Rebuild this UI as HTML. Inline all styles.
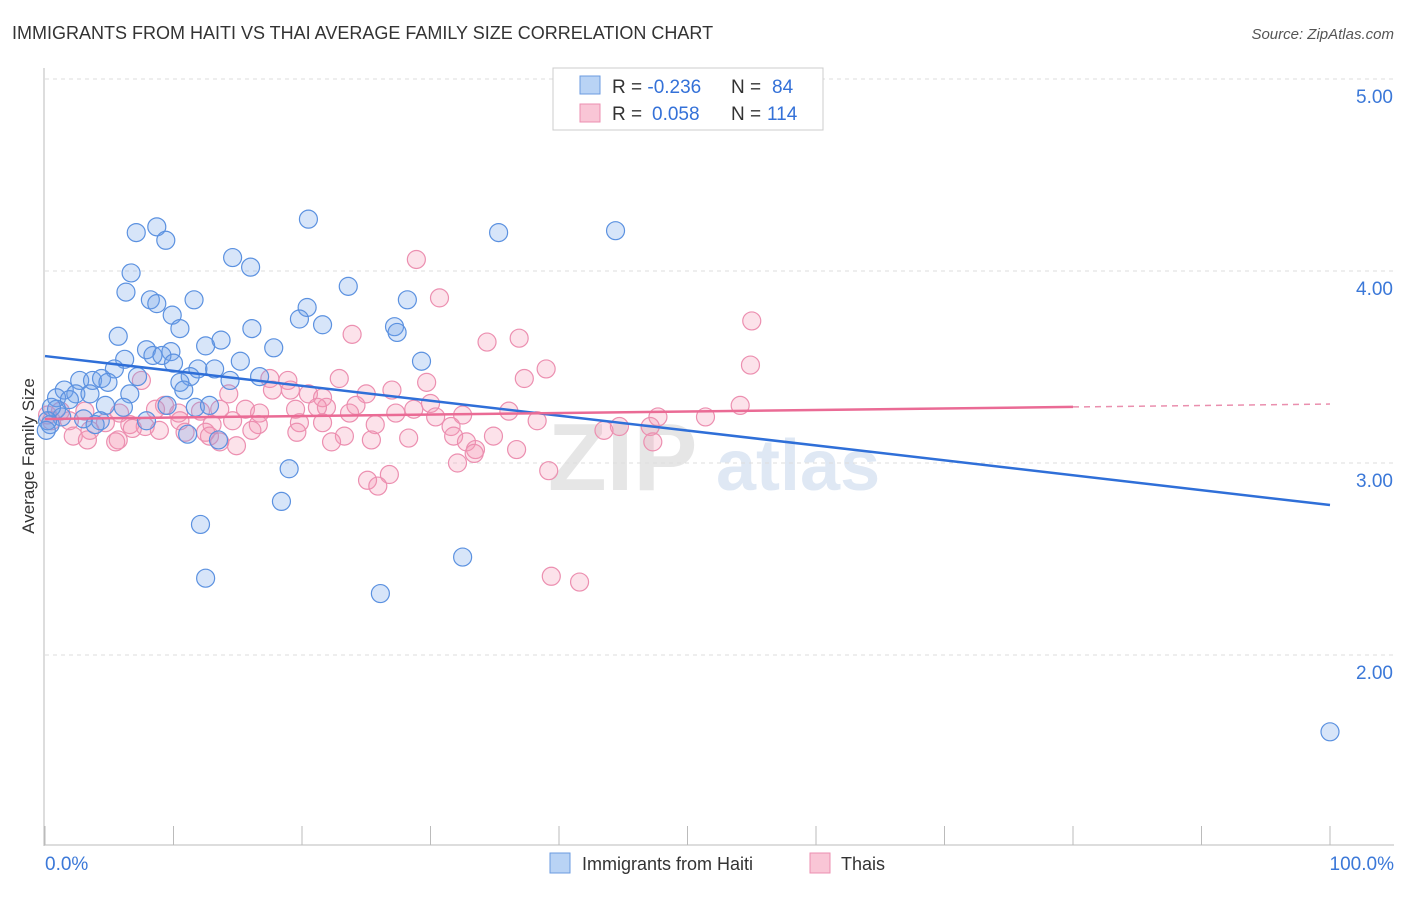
<!DOCTYPE html>
<html><head><meta charset="utf-8"><style>
body{margin:0;background:#fff;font-family:"Liberation Sans",sans-serif;}
</style></head><body>
<svg id="c" width="1406" height="892" xmlns="http://www.w3.org/2000/svg">
<text x="12" y="39" font-size="18" fill="#333">IMMIGRANTS FROM HAITI VS THAI AVERAGE FAMILY SIZE CORRELATION CHART</text>
<text x="1394" y="39" font-size="15" fill="#555" font-style="italic" text-anchor="end">Source: ZipAtlas.com</text>
<text x="548" y="490" font-size="96" fill="#e6e6e6" font-weight="bold">ZIP</text>
<text x="716" y="490" font-size="72" fill="#dfe8f4" font-weight="bold">atlas</text>
<text transform="translate(34,456) rotate(-90)" font-size="17" fill="#333" text-anchor="middle">Average Family Size</text>
<g id="grid"></g><g id="pts"></g><g id="lines"></g>
<g>
<rect x="553" y="68" width="270" height="62" fill="#fff" stroke="#ccc"/>
<rect x="580" y="76" width="20" height="18" fill="#b9d3f5" stroke="#6b9be0"/>
<rect x="580" y="104" width="20" height="18" fill="#f9c6d6" stroke="#ec8fb0"/>
<text x="612" y="93" font-size="19" fill="#333">R = <tspan fill="#3471d8">-0.236</tspan><tspan x="731">N = </tspan><tspan fill="#3471d8" x="772">84</tspan></text>
<text x="612" y="120" font-size="19" fill="#333">R = <tspan fill="#3471d8" x="652">0.058</tspan><tspan x="731">N = </tspan><tspan fill="#3471d8" x="767">114</tspan></text>
</g>
<g>
<rect x="550" y="853" width="20" height="20" fill="#b9d3f5" stroke="#6b9be0"/>
<text x="582" y="870" font-size="18" fill="#333">Immigrants from Haiti</text>
<rect x="810" y="853" width="20" height="20" fill="#f9c6d6" stroke="#ec8fb0"/>
<text x="841" y="870" font-size="18" fill="#333">Thais</text>
</g>
</svg>
<script>
const yTicks=[2,3,4,5];
const yTickLabels=["2.00","3.00","4.00","5.00"];
const xLabels=["0.0%","100.0%"];
const haitiX=[7.1,8.7,9.4,20.5,35.3,44.4,6.7,14.6,16.0,6.3,8.2,8.7,11.6,23.6,28.2,9.9,20.4,19.8,21.6,10.5,16.1,5.7,13.7,27.2,27.4,7.9,9.8,12.5,17.8,8.4,9.1,6.2,15.2,29.3,10.0,11.9,13.2,5.4,7.2,11.3,14.4,16.7,2.7,3.7,4.4,4.9,1.5,2.4,3.5,6.6,10.5,10.8,0.9,1.9,6.1,4.7,9.5,11.7,12.8,0.9,1.3,3.0,4.3,7.9,0.4,0.5,3.9,11.1,13.5,19.0,18.4,12.1,12.5,32.5,26.1,100,0.2,0.1];
const haitiY=[4.20,4.23,4.16,4.27,4.20,4.21,3.99,4.07,4.02,3.89,3.85,3.83,3.85,3.92,3.85,3.77,3.81,3.75,3.72,3.70,3.70,3.66,3.64,3.71,3.68,3.59,3.58,3.61,3.60,3.56,3.56,3.54,3.53,3.53,3.52,3.49,3.49,3.49,3.45,3.45,3.43,3.45,3.43,3.43,3.44,3.42,3.38,3.36,3.36,3.36,3.42,3.38,3.34,3.33,3.29,3.30,3.30,3.29,3.30,3.28,3.24,3.23,3.22,3.22,3.20,3.29,3.20,3.15,3.12,2.97,2.80,2.68,2.40,2.51,2.32,1.60,3.22,3.17];
const thaiX=[28.9,30.7,55,23.9,34.4,36.9,54.9,39,37.3,29.7,22.9,17.5,18.9,7.5,19.1,17.7,14.3,25,27,20.5,21.6,54.1,30,24.2,9.3,13.6,15.6,21.9,19.5,21.2,28.7,36.1,47.7,51.4,32.5,30.4,27.3,23.7,16.7,12.1,10.4,8.6,5.8,3.1,1.2,1.9,4.7,6.6,7.8,10.5,13,14.6,16.6,19.8,21.6,25.7,31.6,38.3,44.7,47.1,3.5,6.8,8.9,10.9,12.5,16.1,19.6,43.5,2.2,5.7,12.8,23.3,25.4,28.3,31.8,32.8,34.9,3.3,5.5,13.6,22.3,47.3,14.9,33.5,36.7,33.4,32.1,39.2,25.1,26.8,25.9,39.4,41.6,0.2,0.5];
const thaiY=[4.06,3.86,3.74,3.67,3.63,3.65,3.51,3.49,3.44,3.42,3.44,3.44,3.43,3.43,3.38,3.38,3.36,3.36,3.38,3.36,3.34,3.30,3.31,3.30,3.30,3.28,3.28,3.29,3.28,3.29,3.28,3.27,3.24,3.24,3.25,3.24,3.26,3.26,3.26,3.27,3.26,3.28,3.26,3.27,3.27,3.22,3.21,3.20,3.19,3.22,3.20,3.22,3.20,3.21,3.21,3.20,3.19,3.22,3.19,3.19,3.17,3.18,3.17,3.16,3.16,3.17,3.16,3.17,3.14,3.12,3.14,3.14,3.12,3.13,3.14,3.11,3.14,3.12,3.11,3.11,3.11,3.11,3.09,3.07,3.07,3.05,3.00,2.96,2.91,2.94,2.88,2.41,2.38,3.25,3.22];
const haitiTrend=[3.557,2.781];
const thaiTrend=[3.229,3.292,3.307];
const NS="http://www.w3.org/2000/svg";
const xs=v=>45+v*12.85, ys=v=>79+(5-v)*192;
function mk(t,a,p){const e=document.createElementNS(NS,t);for(const k in a)e.setAttribute(k,a[k]);p.appendChild(e);return e;}
const grid=document.getElementById('grid');
yTicks.forEach((t,i)=>{
 const l=mk('line',{x1:45,x2:1394,y1:ys(t),y2:ys(t),stroke:'#ddd','stroke-dasharray':'4,4'},grid);
 
 
 const tx=mk('text',{x:1393,y:ys(t)+24,'font-size':19,fill:'#3b78d8','text-anchor':'end'},grid);tx.textContent=yTickLabels[i];
 
 
});
mk('line',{x1:44,x2:44,y1:68,y2:846,stroke:'#bbb'},grid);
mk('line',{x1:44,x2:1394,y1:845,y2:845,stroke:'#bbb'},grid);
for(let i=0;i<=10;i++){const t=mk('line',{x1:xs(i*10),x2:xs(i*10),y1:826,y2:845,stroke:'#bbb'},grid);
 
 }
const xl0=mk('text',{x:45,y:870,'font-size':19,fill:'#3b78d8'},grid);xl0.textContent=xLabels[0];


const xl1=mk('text',{x:1394,y:870,'font-size':19,fill:'#3b78d8','text-anchor':'end'},grid);xl1.textContent=xLabels[1];


const pts=document.getElementById('pts');
thaiX.forEach((x,i)=>{const c=mk('circle',{cx:xs(x),cy:ys(thaiY[i]),r:9,fill:'rgba(244,150,180,0.28)',stroke:'#ec8fb0','stroke-width':1.2},pts);
 
 });
haitiX.forEach((x,i)=>{const c=mk('circle',{cx:xs(x),cy:ys(haitiY[i]),r:9,fill:'rgba(110,160,235,0.28)',stroke:'#5b91e0','stroke-width':1.2},pts);
 
 });
const ln=document.getElementById('lines');
const b=mk('line',{x1:xs(0),y1:ys(haitiTrend[0]),x2:xs(100),y2:ys(haitiTrend[1]),stroke:'#2f6fd8','stroke-width':2.5},ln);


const p=mk('line',{x1:xs(0),y1:ys(thaiTrend[0]),x2:xs(80),y2:ys(thaiTrend[1]),stroke:'#ea6b95','stroke-width':2.5},ln);


const pd=mk('line',{x1:xs(80),y1:ys(thaiTrend[1]),x2:xs(100),y2:ys(thaiTrend[2]),stroke:'#ea8fae','stroke-width':1.5,'stroke-dasharray':'6,5'},ln);


</script>
</body></html>
